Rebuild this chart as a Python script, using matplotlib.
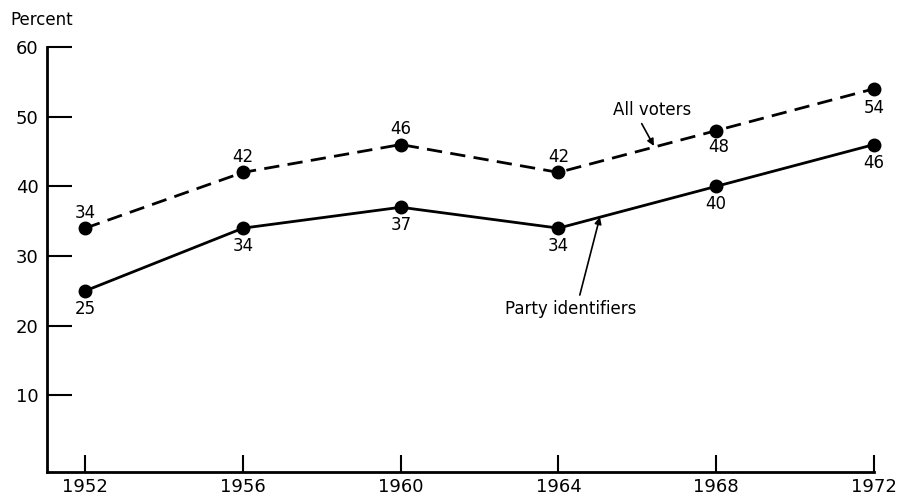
import matplotlib
matplotlib.use("Agg")
import matplotlib.pyplot as plt

# годы и значения (в процентах)
years = [1952, 1956, 1960, 1964, 1968, 1972]
all_voters = [34, 42, 46, 42, 48, 54]
party_identifiers = [25, 34, 37, 34, 40, 46]
y_ticks = [10, 20, 30, 40, 50, 60]

plt.rcParams['font.family'] = ['DejaVu Sans']

fig = plt.figure(figsize=(9.04, 5), dpi=100)
ax = fig.add_axes([0.052, 0.056, 0.9148, 0.85])

# пунктир — все избиратели, сплошная — партийные
ax.plot(years, all_voters, color='black', linewidth=2, linestyle=(0, (5.5, 3)),
        marker='o', markersize=9, clip_on=False)
ax.plot(years, party_identifiers, color='black', linewidth=2,
        marker='o', markersize=9, clip_on=False)

# подписи точек
for yr, v in zip(years, all_voters):
    if yr == 1968:
        off = (2, -12)
    elif yr == 1972:
        off = (0, -14)
    else:
        off = (0, 11)
    ax.annotate(str(v), (yr, v), xytext=off, textcoords='offset points',
                ha='center', va='center', fontsize=12)
for yr, v in zip(years, party_identifiers):
    ax.annotate(str(v), (yr, v), xytext=(0, -13), textcoords='offset points',
                ha='center', va='center', fontsize=12)

# стрелки и подписи серий
ax.annotate('', xy=(1966.42, 45.8), xytext=(1966.11, 49.0),
            arrowprops=dict(arrowstyle='-|>', color='black', lw=1.2,
                            shrinkA=0, shrinkB=0, mutation_scale=10))
ax.text(1966.37, 50.9, 'All voters', ha='center', va='center', fontsize=12)
ax.annotate('', xy=(1965.05, 35.6), xytext=(1964.54, 24.4),
            arrowprops=dict(arrowstyle='-|>', color='black', lw=1.2,
                            shrinkA=0, shrinkB=0, mutation_scale=10))
ax.text(1964.31, 22.4, 'Party identifiers', ha='center', va='center', fontsize=12)

ax.set_xlim(1951.03, 1972)
ax.set_ylim(-1, 60)
ax.set_xticks(years)
ax.set_yticks(y_ticks)

for side in ['top', 'right']:
    ax.spines[side].set_visible(False)
for side in ['left', 'bottom']:
    ax.spines[side].set_linewidth(2)

ax.tick_params(axis='y', direction='in', length=18, width=1.5, pad=6, labelsize=13)
ax.tick_params(axis='x', direction='in', length=12, width=1.5, pad=4, labelsize=13)

fig.text(10 / 904, 1 - 20 / 500, 'Percent', ha='left', va='center', fontsize=12)

fig.savefig('out.png', dpi=100)
